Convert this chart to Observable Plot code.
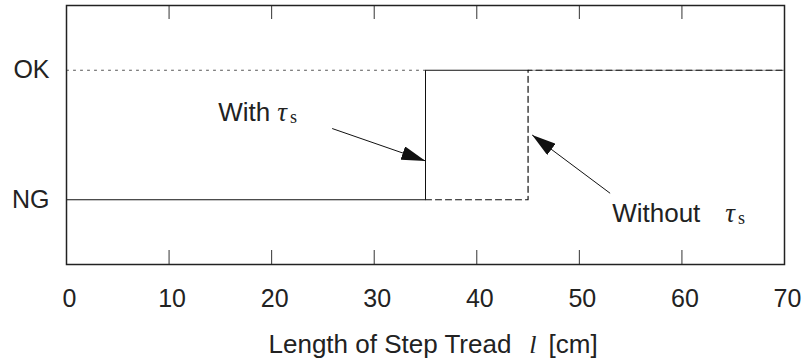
<!DOCTYPE html>
<html>
<head>
<meta charset="utf-8">
<script src="https://cdn.jsdelivr.net/npm/d3@7"></script>
<script src="https://cdn.jsdelivr.net/npm/@observablehq/plot@0.6"></script>
<style>
  html, body { margin: 0; padding: 0; background: #fff; }
  #chart { width: 806px; height: 364px; }
</style>
</head>
<body>
<div id="chart"></div>
<script>
// ---- data ----
const xTicks = [0, 10, 20, 30, 40, 50, 60, 70];
const innerTicks = [10, 20, 30, 40, 50, 60];
const yTicks = [0, 1];
const yTickLabels = ["NG", "OK"];

// "With τs" (solid) : NG until 35 cm, OK from 35 cm
const withX = [0, 35, 35, 45];
const withY = [0, 0, 1, 1];
const withTailX = [45, 70];
const withTailY = [1, 1];
// "Without τs" (dashed) : NG until 45 cm, OK from 45 cm
const withoutX = [35, 45, 45, 70];
const withoutY = [0, 0, 1, 1];
// dotted reference at OK level
const okRefX = [0, 35];
const okRefY = [1, 1];

// annotation arrows (tail -> head), in data units
const arrowX1 = [25.9, 53.0];
const arrowY1 = [0.55, 0.05];
const arrowX2 = [35.0, 45.4];
const arrowY2 = [0.30, 0.50];

// annotation labels
const annoText = ["With", "Without"];
const annoX = [14.8, 53.2];
const annoY = [0.61, -0.17];
const annoGap = [7, 25];
const annoSym = "τ";
const annoSub = "s";

const xLabelMain = "Length of Step Tread";
const xLabelVar = "l";
const xLabelUnit = "[cm]";

// ---- build tables ----
const toPts = (xs, ys) => xs.map((x, i) => ({x, y: ys[i]}));
const withPts = toPts(withX, withY);
const withTailPts = toPts(withTailX, withTailY);
const withoutPts = toPts(withoutX, withoutY);
const okRefPts = toPts(okRefX, okRefY);
const arrows = arrowX1.map((x1, i) => ({x1, y1: arrowY1[i], x2: arrowX2[i], y2: arrowY2[i]}));
const annos = annoText.map((t, i) => ({x: annoX[i], y: annoY[i], t, gap: annoGap[i]}));

const sans = "'Liberation Sans', Arial, Helvetica, sans-serif";
const serif = "'Liberation Serif', 'Times New Roman', serif";

const chart = Plot.plot({
  width: 806,
  height: 364,
  marginLeft: 66,
  marginRight: 22,
  marginTop: 5,
  marginBottom: 100,
  x: {domain: [0, 70]},
  y: {domain: [-0.5, 1.5]},
  style: {fontFamily: sans, fontSize: "25px", color: "#222", background: "#fff"},
  marks: [
    Plot.axisX({ticks: xTicks, tickSize: 0, tickPadding: 25, label: null, fontSize: 25, dx: 3}),
    Plot.axisY({ticks: yTicks, tickFormat: d => yTickLabels[d], tickSize: 0, tickPadding: 17, label: null, fontSize: 25}),
    Plot.ruleX(innerTicks, {insetTop: 245, stroke: "#333", strokeWidth: 1}),
    Plot.ruleX(innerTicks, {insetBottom: 245, stroke: "#333", strokeWidth: 1}),
    Plot.line(okRefPts, {x: "x", y: "y", stroke: "#555", strokeWidth: 1, strokeDasharray: "2,5"}),
    Plot.line(withTailPts, {x: "x", y: "y", stroke: "#999", strokeWidth: 1}),
    Plot.line(withPts, {x: "x", y: "y", stroke: "#111", strokeWidth: 1}),
    Plot.line(withoutPts, {x: "x", y: "y", stroke: "#111", strokeWidth: 1.2, strokeDasharray: "6,4"}),
    Plot.link(arrows, {x1: "x1", y1: "y1", x2: "x2", y2: "y2", stroke: "#111", strokeWidth: 1}),
    Plot.text(annos, {x: "x", y: "y", text: "t", textAnchor: "start", lineAnchor: "bottom", fontSize: 26, fill: "#222"}),
    Plot.text([xLabelMain], {frameAnchor: "bottom", text: d => d, textAnchor: "start", lineAnchor: "middle", dy: 80, dx: -157, fontSize: 26, fill: "#222"}),
    Plot.frame({stroke: "#222", strokeWidth: 1.5})
  ]
});

const svg = d3.select(chart);

// filled arrowheads
const defs = svg.append("defs");
defs.append("marker")
  .attr("id", "ah")
  .attr("viewBox", "0 0 24 14")
  .attr("refX", 24).attr("refY", 7)
  .attr("markerWidth", 24).attr("markerHeight", 14)
  .attr("markerUnits", "userSpaceOnUse")
  .attr("orient", "auto")
  .append("path").attr("d", "M0,0L24,7L0,14Z").attr("fill", "#111");
svg.selectAll('g[aria-label="link"] path').attr("marker-end", "url(#ah)");

// annotation labels with τs
const textGroups = svg.selectAll('g[aria-label="text"]').nodes();
d3.select(textGroups[0]).selectAll("text").each(function(d, i) {
  const t = d3.select(this);
  t.append("tspan").attr("dx", annos[i].gap).attr("font-family", serif).attr("font-style", "italic").attr("font-size", 27).text(annoSym);
  t.append("tspan").attr("dx", 3).attr("dy", 2).attr("font-family", serif).attr("font-size", 18).text(annoSub);
});
// axis title with italic l
d3.select(textGroups[1]).selectAll("text").each(function() {
  const t = d3.select(this);
  t.append("tspan").attr("dx", 18).attr("font-family", serif).attr("font-style", "italic").text(xLabelVar);
  t.append("tspan").attr("dx", 12).text(xLabelUnit);
});

document.getElementById("chart").appendChild(chart);
</script>
</body>
</html>
